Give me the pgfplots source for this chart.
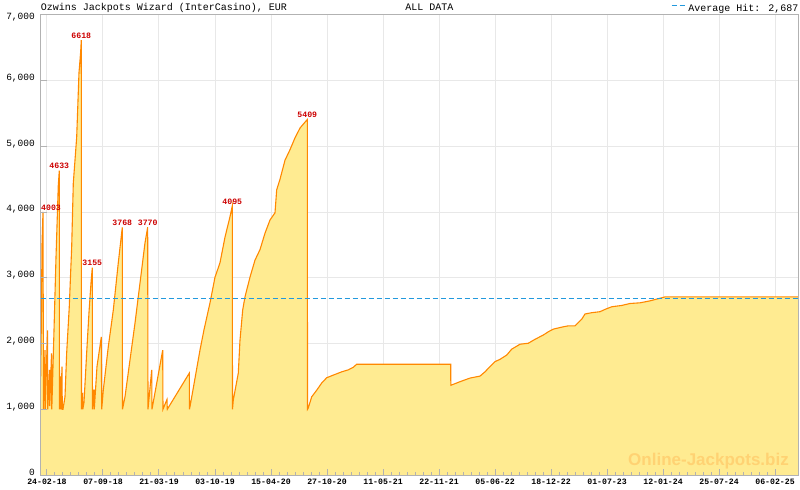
\documentclass[border=0pt]{standalone}
\usepackage{fontspec}
\setmainfont{Liberation Mono}
\newfontfamily\wmfont{Liberation Sans}
\usepackage{pgfplots}
\pgfplotsset{compat=1.18}
\usepackage{pgfplotstable}
\definecolor{fillc}{RGB}{255,235,145}
\definecolor{linec}{RGB}{255,136,0}
\definecolor{avgc}{RGB}{34,153,221}
\definecolor{gridc}{RGB}{232,232,232}
\definecolor{axc}{RGB}{178,178,178}
\definecolor{labc}{RGB}{204,0,0}
\definecolor{wmc}{RGB}{255,210,115}

\pgfplotstableread{
x y
-21.9 1500
-19.2 2510
-17.4 3500
-13.9 4003
-12.2 1000
-7.0 1900
-5.9 1000
1.7 2200
2.8 1000
8.7 1600
9.7 1050
15.7 1850
16.7 1000
17.4 1100
24.4 2200
31.3 3300
39.3 4400
42.8 4633
43.5 1000
47.0 1500
48.1 1000
52.2 1650
53.3 1000
55.7 1000
62.7 1190
68.6 1860
77.6 2560
86.0 3470
91.6 4440
103.4 5140
111.4 6120
117.3 6440
119.4 6618
120.1 1000
123.6 1250
124.7 1000
128.8 1100
138.2 1860
146.2 2470
153.2 2920
157.7 3155
158.4 1000
163.7 1300
164.7 1000
174.1 1650
189.1 2100
190.5 1000
196.0 1290
213.4 1950
230.9 2510
248.3 3230
262.2 3768
262.9 1000
271.6 1190
289.0 1750
306.4 2310
323.8 2920
341.2 3530
350.6 3770
351.7 1000
364.6 1600
365.6 1000
402.9 1900
403.9 1000
417.8 1150
418.9 1000
495.5 1550
496.2 1000
500.4 1100
532.7 1900
546.7 2210
567.6 2620
585.0 3010
602.4 3230
619.8 3620
637.2 3930
645.2 4095
645.9 1000
648.7 1140
666.1 1550
672.0 2050
681.4 2510
689.4 2710
706.8 3010
724.3 3270
741.7 3430
759.1 3680
776.5 3880
793.9 3990
799.8 4340
811.3 4500
828.7 4790
846.1 4950
863.5 5130
881.0 5280
898.4 5370
906.4 5409
907.1 1000
909.8 1020
921.7 1190
939.1 1290
956.5 1400
973.9 1480
996.9 1520
1026.2 1570
1049.1 1600
1066.6 1640
1078.4 1685
1405.7 1685
1406.1 1365
1438.1 1420
1472.9 1475
1507.7 1505
1525.1 1570
1542.5 1650
1559.9 1725
1577.3 1760
1600.7 1825
1618.1 1915
1647.0 1990
1675.9 2005
1699.2 2065
1728.1 2130
1745.6 2180
1763.0 2220
1792.2 2250
1815.2 2270
1838.5 2270
1850.0 2320
1861.8 2370
1873.3 2450
1896.6 2470
1925.5 2485
1942.9 2520
1966.3 2560
2001.1 2580
2030.0 2610
2064.8 2620
2099.6 2650
2134.4 2690
2151.8 2710
2616.0 2710
}\jp

\pgfplotstableread{
x y
42.8 4633
119.4 6618
157.7 3155
262.2 3768
350.6 3770
645.2 4095
906.4 5409
}\peaks

\pgfplotstableread{
x y
-13.9 4003
}\firstpeak

\begin{document}
\begin{tikzpicture}
\pgfplotsset{
  common/.style={
    at={(0,0)}, anchor=south west,
    scale only axis, width=757.6bp, height=460bp,
    xmin=-21.9, xmax=2616, ymin=0, ymax=7000,
    xtick={0,195,...,2535},
  }
}
\begin{axis}[
  common,
  clip=false,
  ytick={0,1000,...,6000},
  extra y ticks={7000},
  extra y tick style={yticklabel style={yshift=-5bp}},
  xticklabels={24-02-18,07-09-18,21-03-19,03-10-19,15-04-20,27-10-20,11-05-21,22-11-21,05-06-22,18-12-22,01-07-23,12-01-24,25-07-24,06-02-25},
  grid=major, grid style={gridc, line width=1bp},
  major tick length=0pt,
  axis line style={axc, line width=1bp},
  /pgf/number format/assume math mode=true,
  yticklabel style={font=\fontsize{9.5bp}{11bp}\selectfont, inner sep=0pt, xshift=-5.7bp, yshift=2.5bp},
  xticklabel style={font=\fontsize{8.2bp}{10bp}\selectfont\bfseries, inner sep=0pt, yshift=-4bp},
  legend style={draw=none, fill=none, inner sep=0pt, outer sep=0pt,
    at={(1,1)}, anchor=south east, yshift=2.1bp,
    font=\fontsize{10bp}{12bp}\selectfont,
    nodes={inner sep=0pt},
    /tikz/every odd column/.append style={column sep=2bp}},
  legend image code/.code={\draw[avgc, line width=1.3bp, dash pattern=on 5bp off 3bp] (0bp,3.3bp) -- (14bp,3.3bp);},
]
\addplot[fill=fillc, draw=none, forget plot] table[x=x,y=y] {\jp} \closedcycle;
\addplot[linec, line width=1.1bp, forget plot] table[x=x,y=y] {\jp};
\addplot[avgc, line width=1.2bp, dash pattern=on 5bp off 3bp] coordinates {(-21.9,2687) (2616,2687)};
\addlegendentry{Average Hit: 2,687}
\addplot[draw=none, forget plot, nodes near coords, point meta=explicit symbolic,
  nodes near coords style={font=\fontsize{8.2bp}{9bp}\selectfont\bfseries, text=labc, anchor=south, inner sep=0pt, yshift=1.5bp}]
  table[x=x,y=y,meta=y] {\peaks};
\addplot[draw=none, forget plot, nodes near coords, point meta=explicit symbolic,
  nodes near coords style={font=\fontsize{8.2bp}{9bp}\selectfont\bfseries, text=labc, anchor=south west, inner sep=0pt, xshift=-2bp, yshift=1.5bp}]
  table[x=x,y=y,meta=y] {\firstpeak};
\node[anchor=base east, font=\wmfont\bfseries\fontsize{17bp}{20bp}\selectfont, text=wmc, inner sep=0pt] at (rel axis cs:0.9877,0.0217) {Online-Jackpots.biz};
\node[anchor=base west, font=\fontsize{10bp}{12bp}\selectfont, inner sep=0pt] at (rel axis cs:0,1) [yshift=4.3bp] {Ozwins Jackpots Wizard (InterCasino), EUR};
\node[anchor=base west, font=\fontsize{10bp}{12bp}\selectfont, inner sep=0pt] at (rel axis cs:0.481,1) [yshift=4.3bp] {ALL DATA};
\end{axis}
\begin{axis}[
  common,
  ytick={0,1000,...,7000},
  xticklabels={}, yticklabels={},
  minor x tick num=6,
  tick align=inside,
  major tick length=6bp, minor tick length=3bp,
  tick style={axc, line width=1bp},
  axis line style={axc, line width=1bp},
  xtick pos=bottom, ytick pos=left,
]
\end{axis}
\pgfresetboundingbox
\useasboundingbox (-40.7bp,-15bp) rectangle (759.3bp,475bp);
\end{tikzpicture}
\end{document}
